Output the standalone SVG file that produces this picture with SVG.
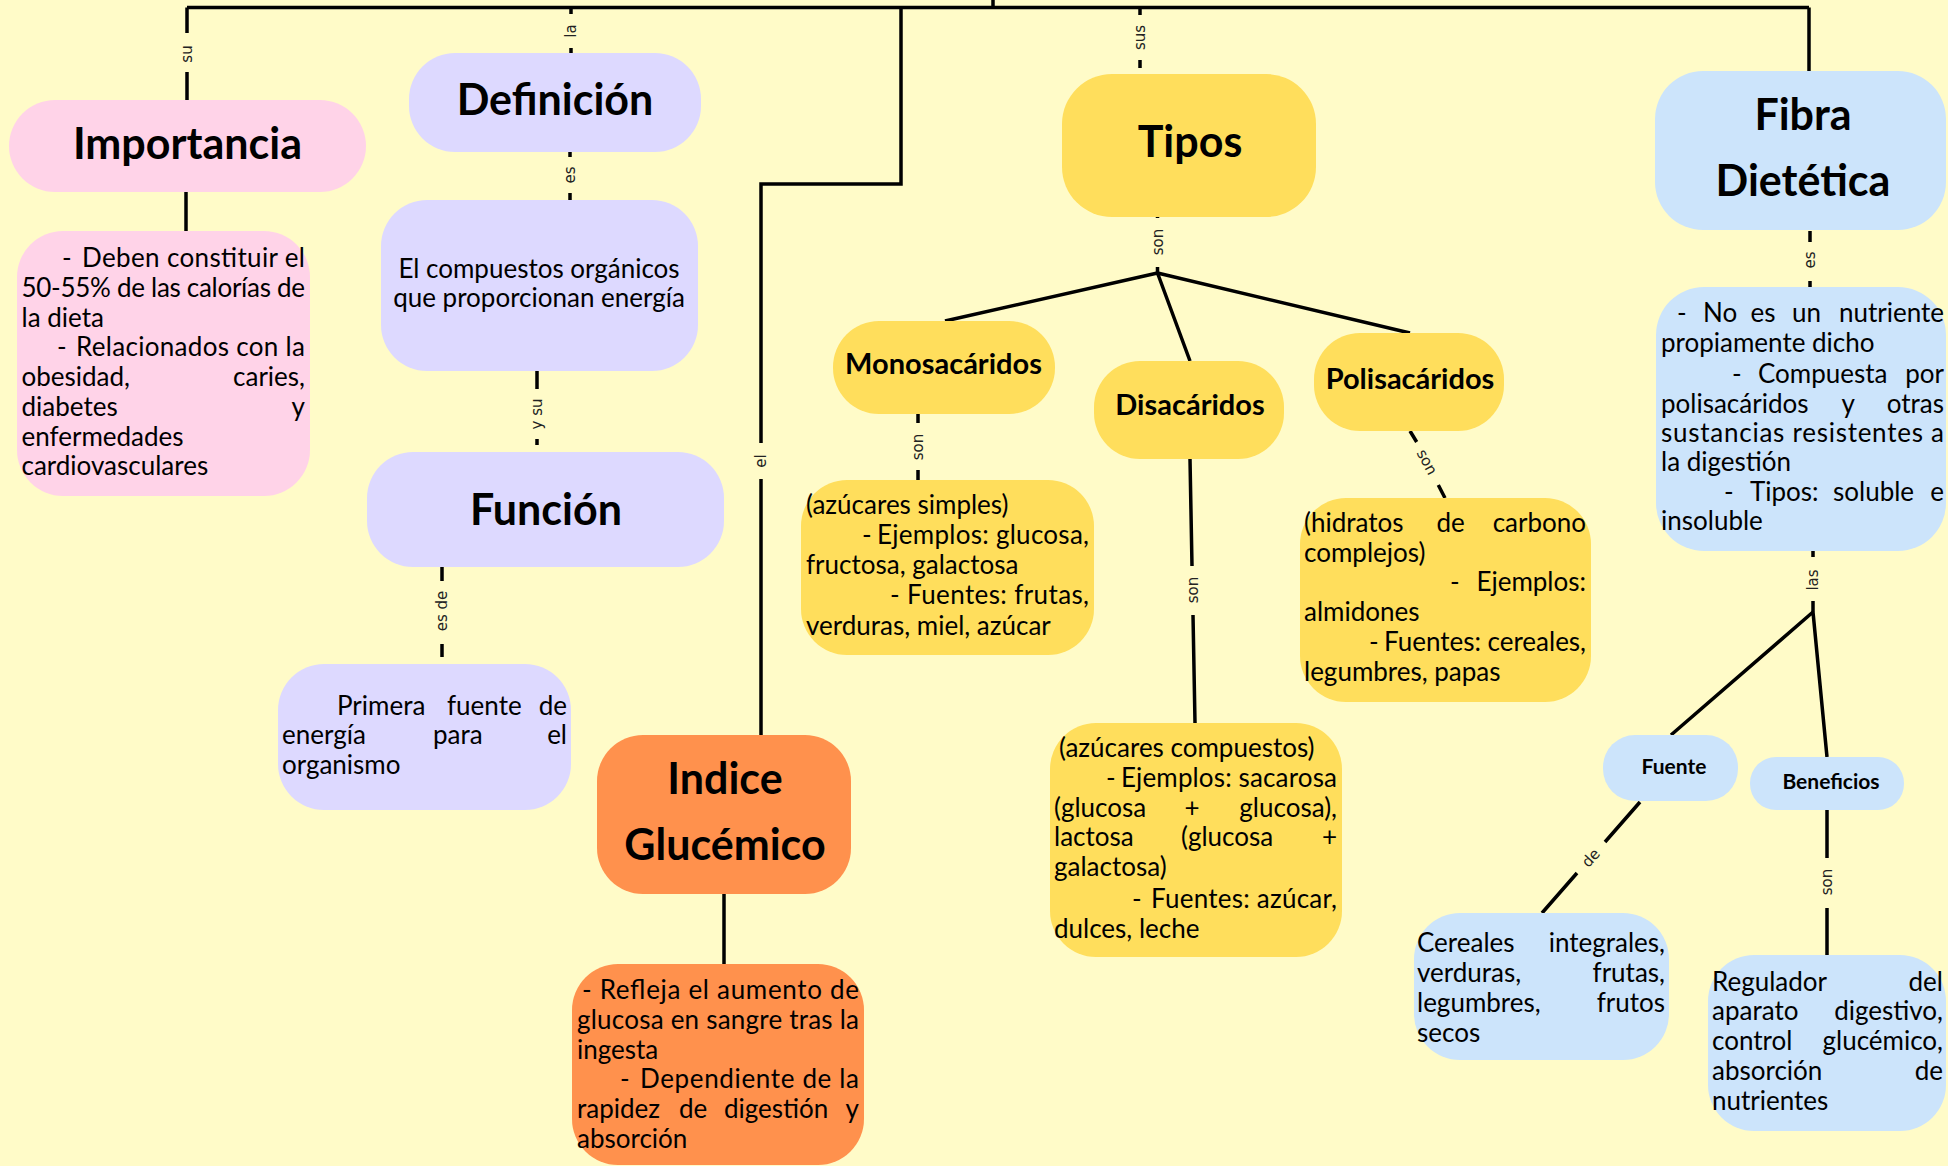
<svg xmlns="http://www.w3.org/2000/svg" width="1948" height="1166" viewBox="0 0 1948 1166">
<style>
.t{font-family:Lato,'Open Sans',sans-serif;font-weight:bold;font-size:43px;fill:#000;text-anchor:middle}
.m{font-family:Lato,'Open Sans',sans-serif;font-weight:bold;font-size:29px;fill:#000;text-anchor:middle}
.s{font-family:Lato,'Open Sans',sans-serif;font-weight:bold;font-size:21px;fill:#000;text-anchor:middle}
.b{font-family:Lato,'Open Sans',sans-serif;font-size:26px;fill:#000}
.e{text-anchor:end}
.c{text-anchor:middle}
.l{font-family:'DejaVu Sans',sans-serif;font-size:15px;fill:#222;text-anchor:middle;dominant-baseline:central}
.ln{fill:none;stroke:#000;stroke-width:3.5}
.pink{fill:#FFD3E8}.lav{fill:#DDD9FF}.yel{fill:#FFDE5C}.org{fill:#FF914D}.blu{fill:#CCE4FB}
</style>
<rect width="1948" height="1166" fill="#FFFBC8"/>
<g id="connectors">
<path class="ln" d="M187,7.5 H1809 M993,0 V7.5"/>
<path class="ln" d="M187,7.5 V33 M187,72 V100"/>
<text class="l" transform="translate(187,54) rotate(-90)">su</text>
<path class="ln" d="M571,7.5 V14 M571,48 V53"/>
<text class="l" transform="translate(571,31) rotate(-90)">la</text>
<path class="ln" d="M901,7.5 V184 H761 V443 M761,479 V735"/>
<text class="l" transform="translate(761,461) rotate(-90)">el</text>
<path class="ln" d="M1140,7.5 V15 M1140,60 V68"/>
<text class="l" transform="translate(1140,37.5) rotate(-90)">sus</text>
<path class="ln" d="M1809,7.5 V71"/>
<path class="ln" d="M186,192 V231"/>
<path class="ln" d="M570,152 V157 M570,193 V200"/>
<text class="l" transform="translate(570,175) rotate(-90)">es</text>
<path class="ln" d="M537,371 V389 M537,439 V445"/>
<text class="l" transform="translate(537,414) rotate(-90)">y su</text>
<path class="ln" d="M442,567 V581 M442,644 V657"/>
<text class="l" transform="translate(442,611) rotate(-90)">es de</text>
<path class="ln" d="M724,894 V964"/>
<path class="ln" d="M1157.5,213 V218 M1157.5,267 V273"/>
<text class="l" transform="translate(1157.5,242) rotate(-90)">son</text>
<path class="ln" d="M1157.5,273 L945,321 M1157.5,273 L1190,361 M1157.5,273 L1410,333"/>
<path class="ln" d="M918,414 V423 M918,470 V480"/>
<text class="l" transform="translate(918,447) rotate(-90)">son</text>
<path class="ln" d="M1190,459 L1192,566 M1193,615 L1195,723"/>
<text class="l" transform="translate(1192.5,590) rotate(-90)">son</text>
<path class="ln" d="M1410,431 L1416.7,442 M1438.3,485 L1445,498"/>
<text class="l" transform="translate(1427,462) rotate(61.7)">son</text>
<path class="ln" d="M1810,231 V242 M1810,281 V287"/>
<text class="l" transform="translate(1810,260) rotate(-90)">es</text>
<path class="ln" d="M1813,551 V557 M1813,601 V612"/>
<text class="l" transform="translate(1813,580) rotate(-90)">las</text>
<path class="ln" d="M1813,612 L1671,735 M1813,612 L1827,757"/>
<path class="ln" d="M1640,802 L1605,842 M1577,873 L1542,913"/>
<text class="l" transform="translate(1591,858) rotate(-48.6)">de</text>
<path class="ln" d="M1827,810 V858 M1827,908 V955"/>
<text class="l" transform="translate(1827,882) rotate(-90)">son</text>
</g>
<g id="importancia">
<rect class="pink" x="9" y="100" width="357" height="92" rx="46"/>
<text class="t" x="187.5" y="159">Importancia</text>
</g>
<g id="importancia-texto">
<rect class="pink" x="17" y="231" width="293" height="265" rx="46"/>
<text class="b" x="62" y="267">-</text>
<text class="b" x="82" y="267" textLength="223" lengthAdjust="spacing">Deben constituir el</text>
<text class="b" x="21.5" y="297" textLength="283.5" lengthAdjust="spacing">50-55% de las calorías de</text>
<text class="b" x="21.5" y="327">la dieta</text>
<text class="b" x="57" y="356">-</text>
<text class="b" x="76" y="356" textLength="229" lengthAdjust="spacing">Relacionados con la</text>
<text class="b" x="21.5" y="386">obesidad,</text><text class="b e" x="305" y="386">caries,</text>
<text class="b" x="21.5" y="416">diabetes</text><text class="b e" x="305" y="416">y</text>
<text class="b" x="21.5" y="446">enfermedades</text>
<text class="b" x="21.5" y="475">cardiovasculares</text>
</g>
<g id="definicion">
<rect class="lav" x="409" y="53" width="292" height="99" rx="46"/>
<text class="t" x="555" y="115">Definición</text>
</g>
<g id="definicion-texto">
<rect class="lav" x="381" y="200" width="317" height="171" rx="46"/>
<text class="b c" x="539" y="278">El compuestos orgánicos</text>
<text class="b c" x="539" y="307">que proporcionan energía</text>
</g>
<g id="funcion">
<rect class="lav" x="367" y="452" width="357" height="115" rx="46"/>
<text class="t" x="546" y="525">Función</text>
</g>
<g id="funcion-texto">
<rect class="lav" x="278" y="664" width="293" height="146" rx="46"/>
<text class="b" x="337" y="714.5">Primera</text><text class="b" x="447" y="714.5">fuente</text><text class="b e" x="567" y="714.5">de</text>
<text class="b" x="282" y="744">energía</text><text class="b" x="433" y="744">para</text><text class="b e" x="567" y="744">el</text>
<text class="b" x="282" y="774">organismo</text>
</g>
<g id="indice">
<rect class="org" x="597" y="735" width="254" height="159" rx="46"/>
<text class="t" x="725" y="794">Indice</text>
<text class="t" x="725" y="860">Glucémico</text>
</g>
<g id="indice-texto">
<rect class="org" x="572" y="964" width="292" height="201" rx="46"/>
<text class="b" x="582" y="999" textLength="277" lengthAdjust="spacing">- Refleja el aumento de</text>
<text class="b" x="577" y="1029" textLength="282" lengthAdjust="spacing">glucosa en sangre tras la</text>
<text class="b" x="577" y="1058.5">ingesta</text>
<text class="b" x="620" y="1088">-</text>
<text class="b" x="640" y="1088" textLength="219" lengthAdjust="spacing">Dependiente de la</text>
<text class="b" x="577" y="1118">rapidez</text><text class="b" x="679" y="1118">de</text><text class="b" x="724" y="1118">digestión</text><text class="b e" x="859" y="1118">y</text>
<text class="b" x="577" y="1148">absorción</text>
</g>
<g id="tipos">
<rect class="yel" x="1062" y="74" width="254" height="143" rx="50"/>
<text class="t" x="1190" y="157">Tipos</text>
</g>
<g id="monosacaridos">
<rect class="yel" x="833" y="321" width="222" height="93" rx="46"/>
<text class="m" x="943.5" y="374">Monosacáridos</text>
</g>
<g id="monosacaridos-texto">
<rect class="yel" x="801" y="480" width="293" height="175" rx="46"/>
<text class="b" x="806" y="514">(azúcares simples)</text>
<text class="b" x="862" y="544">-</text><text class="b" x="877" y="544" textLength="212" lengthAdjust="spacing">Ejemplos: glucosa,</text>
<text class="b" x="806" y="574">fructosa, galactosa</text>
<text class="b" x="890" y="604" textLength="199" lengthAdjust="spacing">- Fuentes:  frutas,</text>
<text class="b" x="806" y="635">verduras, miel, azúcar</text>
</g>
<g id="disacaridos">
<rect class="yel" x="1094" y="361" width="190" height="98" rx="46"/>
<text class="m" x="1190" y="415">Disacáridos</text>
</g>
<g id="disacaridos-texto">
<rect class="yel" x="1050" y="723" width="292" height="234" rx="46"/>
<text class="b" x="1059" y="757">(azúcares compuestos)</text>
<text class="b" x="1106" y="787">-</text><text class="b" x="1121" y="787" textLength="216" lengthAdjust="spacing">Ejemplos: sacarosa</text>
<text class="b" x="1054" y="816.5">(glucosa</text><text class="b c" x="1192" y="816.5">+</text><text class="b e" x="1337" y="816.5">glucosa),</text>
<text class="b" x="1054" y="846">lactosa</text><text class="b" x="1181" y="846">(glucosa</text><text class="b e" x="1337" y="846">+</text>
<text class="b" x="1054" y="876">galactosa)</text>
<text class="b" x="1132" y="908">-</text><text class="b" x="1151" y="908" textLength="186" lengthAdjust="spacing">Fuentes: azúcar,</text>
<text class="b" x="1054" y="937.5">dulces, leche</text>
</g>
<g id="polisacaridos">
<rect class="yel" x="1314" y="333" width="190" height="98" rx="46"/>
<text class="m" x="1410" y="388.5">Polisacáridos</text>
</g>
<g id="polisacaridos-texto">
<rect class="yel" x="1300" y="498" width="291" height="204" rx="46"/>
<text class="b" x="1304" y="532">(hidratos</text><text class="b" x="1436.5" y="532">de</text><text class="b e" x="1586" y="532">carbono</text>
<text class="b" x="1304" y="561.6">complejos)</text>
<text class="b" x="1450" y="591">-</text><text class="b e" x="1586" y="591">Ejemplos:</text>
<text class="b" x="1304" y="621">almidones</text>
<text class="b" x="1369" y="651">-</text><text class="b" x="1384" y="651" textLength="202" lengthAdjust="spacing">Fuentes: cereales,</text>
<text class="b" x="1304" y="680.5">legumbres, papas</text>
</g>
<g id="fibra">
<rect class="blu" x="1655" y="71" width="291" height="159" rx="48"/>
<text class="t" x="1803" y="130">Fibra</text>
<text class="t" x="1803" y="196">Dietética</text>
</g>
<g id="fibra-texto">
<rect class="blu" x="1656" y="287" width="290" height="264" rx="48"/>
<text class="b" x="1677" y="321.5">-</text><text class="b" x="1703" y="321.5">No</text><text class="b" x="1750.5" y="321.5">es</text><text class="b" x="1792" y="321.5">un</text><text class="b e" x="1944" y="321.5">nutriente</text>
<text class="b" x="1661" y="352">propiamente dicho</text>
<text class="b" x="1732" y="383">-</text><text class="b" x="1758" y="383">Compuesta</text><text class="b e" x="1944" y="383">por</text>
<text class="b" x="1661" y="413">polisacáridos</text><text class="b" x="1841.5" y="413">y</text><text class="b e" x="1944" y="413">otras</text>
<text class="b" x="1661" y="442" textLength="283" lengthAdjust="spacing">sustancias resistentes a</text>
<text class="b" x="1661" y="471">la digestión</text>
<text class="b" x="1724" y="501">-</text><text class="b" x="1750" y="501">Tipos:</text><text class="b" x="1833" y="501">soluble</text><text class="b e" x="1944" y="501">e</text>
<text class="b" x="1661" y="530">insoluble</text>
</g>
<g id="fuente">
<rect class="blu" x="1603" y="735" width="135" height="66" rx="32"/>
<text class="s" x="1674" y="774">Fuente</text>
</g>
<g id="beneficios">
<rect class="blu" x="1750" y="757" width="154" height="53" rx="26"/>
<text class="s" x="1831" y="789">Beneficios</text>
</g>
<g id="fuente-texto">
<rect class="blu" x="1414" y="913" width="255" height="147" rx="46"/>
<text class="b" x="1417" y="952">Cereales</text><text class="b e" x="1665" y="952">integrales,</text>
<text class="b" x="1417" y="982">verduras,</text><text class="b e" x="1665" y="982">frutas,</text>
<text class="b" x="1417" y="1012">legumbres,</text><text class="b e" x="1665" y="1012">frutos</text>
<text class="b" x="1417" y="1041.5">secos</text>
</g>
<g id="beneficios-texto">
<rect class="blu" x="1708" y="955" width="238" height="176" rx="46"/>
<text class="b" x="1712" y="990.5">Regulador</text><text class="b e" x="1943" y="990.5">del</text>
<text class="b" x="1712" y="1020">aparato</text><text class="b e" x="1943" y="1020">digestivo,</text>
<text class="b" x="1712" y="1050">control</text><text class="b e" x="1943" y="1050">glucémico,</text>
<text class="b" x="1712" y="1080">absorción</text><text class="b e" x="1943" y="1080">de</text>
<text class="b" x="1712" y="1109.5">nutrientes</text>
</g>
</svg>
